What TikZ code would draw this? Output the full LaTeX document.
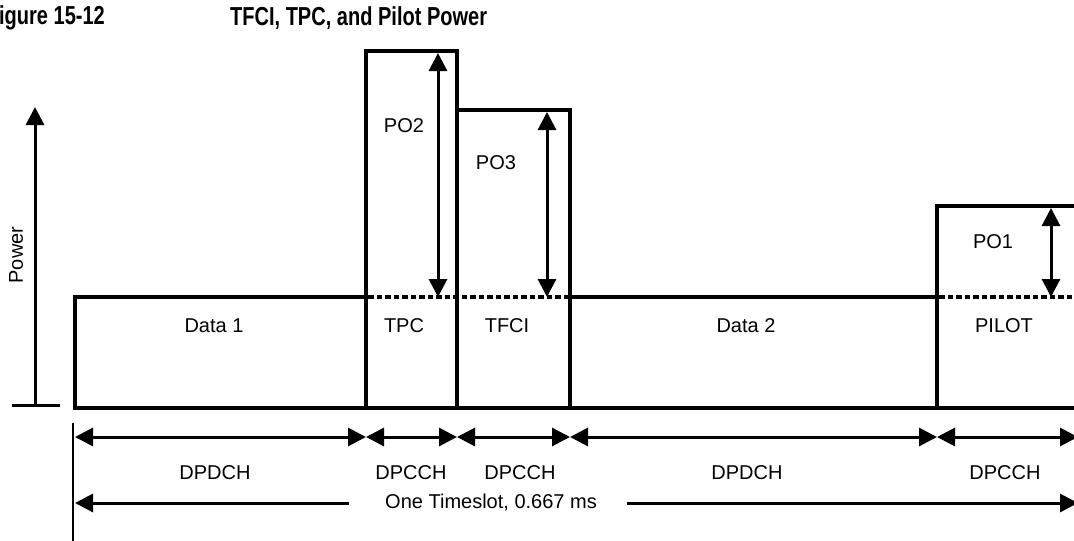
\documentclass[tikz,border=0pt]{standalone}
\usepackage{fontspec}
\setmainfont{Liberation Sans}
\usetikzlibrary{arrows.meta,positioning,calc}

\begin{document}
\begin{tikzpicture}[x=1pt,y=-1pt,
  font=\fontsize{20}{24}\selectfont,
  outline/.style={line width=4pt, line join=miter},
  thin/.style={line width=3pt},
  dbl/.style={thin, {Triangle[length=18pt,width=18pt]}-{Triangle[length=18pt,width=18pt]}},
  sgl/.style={thin, -{Triangle[length=18pt,width=18pt]}},
  lsgl/.style={thin, {Triangle[length=18pt,width=18pt]}-},
  ref/.style={line width=3.5pt, dash pattern=on 5.5pt off 3pt},
  lbl/.style={inner sep=0pt},
  ttl/.style={font=\fontsize{26}{30}\selectfont\bfseries, inner sep=0pt, xscale=0.77}
]
\useasboundingbox (0,0) rectangle (1074,541);

% title
\node[ttl, anchor=east] (fig) at (105,18) {igure 15-12};
\node[ttl, anchor=west] (title) at (230,18) {TFCI, TPC, and Pilot Power};

% power axis
\coordinate (pbot) at (35,405);
\coordinate (ptop) at (35,107);
\coordinate (tickl) at (12,405);
\coordinate (tickr) at (60,405);
\draw[sgl] (pbot) -- (ptop);
\draw[thin] (tickl) -- (tickr);
\node[lbl, rotate=90, font=\fontsize{20}{24}\selectfont] (power) at (16,255) {Power};

% slot boundaries
\coordinate (x0) at (75,408);
\coordinate (x1) at (366,408);
\coordinate (x2) at (457,408);
\coordinate (x3) at (570,408);
\coordinate (x4) at (937,408);
\coordinate (xr) at (1080,408);

% power envelope
\draw[outline] (xr) -- (x0) |- (366,297) |- (457,51) |- (570,110) |- (937,297) |- (1080,206);
\draw[outline] (x1) -- (366,297);
\draw[outline] (x2) -- (457,110);
\draw[outline] (x3) -- (570,297);
\draw[outline] (x4) -- (937,297);

% reference level
\draw[ref] (368,297) -- (568,297);
\draw[ref] (939,297) -- (1074,297);

% offsets
\coordinate (po2t) at (438,53);
\coordinate (po2b) at (438,297);
\coordinate (po3t) at (547,112);
\coordinate (po3b) at (547,297);
\coordinate (po1t) at (1051,208);
\coordinate (po1b) at (1051,297);
\draw[dbl] (po2b) -- (po2t);
\draw[dbl] (po3b) -- (po3t);
\draw[dbl] (po1b) -- (po1t);
\node[lbl] (po2) at (404,126) {PO2};
\node[lbl] (po3) at (496,163) {PO3};
\node[lbl] (po1) at (993,242) {PO1};

% field names
\node[lbl] (data1) at (214,326) {Data 1};
\node[lbl] (tpc) at (404,326) {TPC};
\node[lbl] (tfci) at (507,326) {TFCI};
\node[lbl] (data2) at (746,326) {Data 2};
\node[lbl] (pilot) at (1004,326) {PILOT};

% channel spans
\coordinate (d0) at (75,437);
\coordinate (d1) at (366,437);
\coordinate (d2) at (457,437);
\coordinate (d3) at (570,437);
\coordinate (d4) at (937,437);
\coordinate (d5) at (1078,437);
\draw[dbl] (d0) -- (d1);
\draw[dbl] (d1) -- (d2);
\draw[dbl] (d2) -- (d3);
\draw[dbl] (d3) -- (d4);
\draw[dbl] (d4) -- (d5);
\node[lbl] (ch1) at (215,473) {DPDCH};
\node[lbl] (ch2) at (411,473) {DPCCH};
\node[lbl] (ch3) at (520,473) {DPCCH};
\node[lbl] (ch4) at (747,473) {DPDCH};
\node[lbl] (ch5) at (1005,473) {DPCCH};

% timeslot
\coordinate (vtop) at (73,423);
\coordinate (vbot) at (73,541);
\draw[line width=2.5pt] (vtop) -- (vbot);
\node[lbl] (slot) at (491,503) {One Timeslot, 0.667 ms};
\coordinate (sl) at (75,503);
\coordinate (sr) at (1078,503);
\draw[lsgl] (sl) -- ([xshift=-36pt]slot.west);
\draw[sgl] ([xshift=30pt]slot.east) -- (sr);
\end{tikzpicture}
\end{document}
